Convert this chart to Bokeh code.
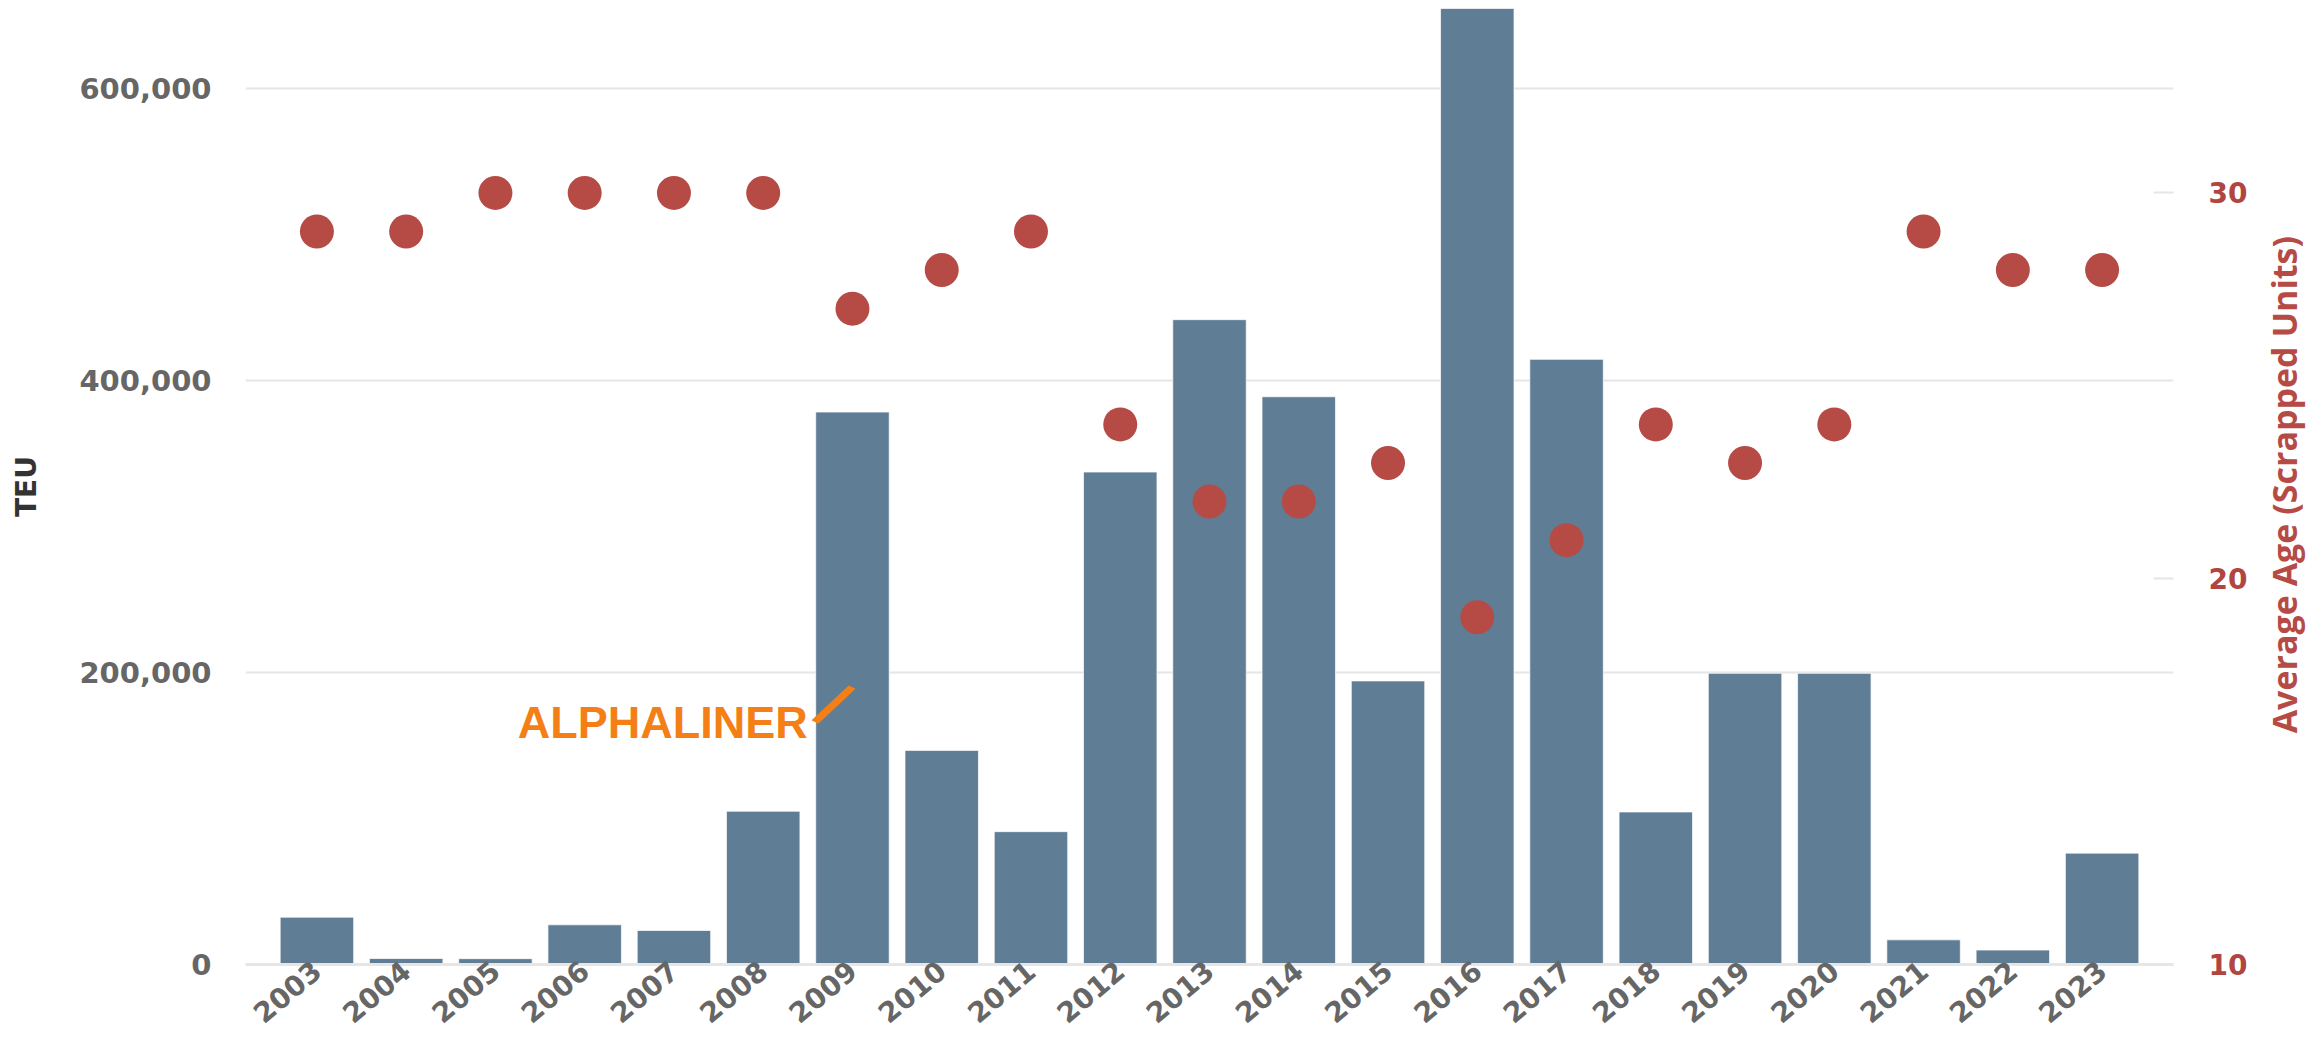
import math
from bokeh.plotting import figure
from bokeh.layouts import row
from bokeh.models import (Range1d, LinearAxis, FixedTicker, NumeralTickFormatter,
                          Label, ColumnDataSource)
from bokeh.embed import file_html
from bokeh.resources import INLINE

# ---- data ----
years = [2003, 2004, 2005, 2006, 2007, 2008, 2009, 2010, 2011, 2012, 2013,
         2014, 2015, 2016, 2017, 2018, 2019, 2020, 2021, 2022, 2023]
teu = [32400, 4100, 4000, 27200, 23300, 105000, 378500, 146700, 91000, 337400,
       441800, 389000, 194300, 655000, 414600, 104500, 199500, 199500, 16900,
       9900, 76300]
avg_age = [29, 29, 30, 30, 30, 30, 27, 28, 29, 24, 22, 22, 23, 19, 21, 24, 23,
           24, 29, 28, 28]
teu_ticks = [0, 200000, 400000, 600000]
age_ticks = [10, 20, 30]

BAR = "#5f7d95"
DOT = "#b64b46"
GRID = "#e6e6e6"
LBL = "#666666"
FONT = "DejaVu Sans"

src = ColumnDataSource(dict(year=years, teu=teu, age=avg_age))

W_TITLE = 50
p = figure(width=2306 - W_TITLE, height=1042, output_backend="svg", toolbar_location=None,
           x_range=Range1d(2002.2, 2023.8), y_range=Range1d(0, 655000),
           min_border_left=245, min_border_right=83, min_border_top=8,
           min_border_bottom=78)
p.extra_y_ranges = {"age": Range1d(10, 34.78)}
p.outline_line_color = None
p.background_fill_color = "white"
p.border_fill_color = "white"

p.vbar(x="year", top="teu", width=0.823, source=src, fill_color=BAR,
       line_color="#ffffff", line_width=1, line_alpha=0.7)

# logo
p.add_layout(Label(x=2005.25, y=166000, text="ALPHALINER", text_font="Liberation Sans",
                   text_font_style="bold", text_font_size="45px", text_color="#f57f17",
                   text_baseline="alphabetic"))
p.add_layout(Label(x=2008.68, y=181000, text="/", text_font="Liberation Sans",
                   text_font_style="bold italic", text_font_size="64px",
                   text_color="#f57f17", text_baseline="alphabetic", angle=-0.45))

p.scatter(x="year", y="age", y_range_name="age", source=src, size=34,
          fill_color=DOT, line_color=None)

# grid
p.xgrid.grid_line_color = None
p.ygrid.ticker = FixedTicker(ticks=teu_ticks)
p.ygrid.grid_line_color = GRID
p.ygrid.grid_line_width = 2

# x axis
xa = p.xaxis[0]
xa.ticker = FixedTicker(ticks=years)
xa.major_label_orientation = 0.7
xa.major_label_text_font = FONT
xa.major_label_text_font_size = "28px"
xa.major_label_text_font_style = "bold"
xa.major_label_text_color = LBL
xa.major_label_standoff = 2
xa.major_tick_line_color = None
xa.major_tick_out = 0
xa.major_tick_in = 0
xa.minor_tick_line_color = None
xa.minor_tick_out = 0
xa.axis_line_color = GRID
xa.axis_line_width = 3

# left axis
ya = p.yaxis[0]
ya.ticker = FixedTicker(ticks=teu_ticks)
ya.formatter = NumeralTickFormatter(format="0,0")
ya.major_label_text_font = FONT
ya.major_label_text_font_size = "29px"
ya.major_label_text_font_style = "bold"
ya.major_label_text_color = LBL
ya.major_label_standoff = 34
ya.major_tick_line_color = None
ya.major_tick_out = 0
ya.minor_tick_line_color = None
ya.minor_tick_out = 0
ya.axis_line_color = None
ya.axis_label = "TEU"
ya.axis_label_text_font = FONT
ya.axis_label_text_font_size = "28px"
ya.axis_label_text_font_style = "bold"
ya.axis_label_text_color = "#333333"
ya.axis_label_standoff = 33

# right axis
ra = LinearAxis(y_range_name="age", ticker=FixedTicker(ticks=age_ticks))
ra.major_label_text_font = FONT
ra.major_label_text_font_size = "28px"
ra.major_label_text_font_style = "bold"
ra.major_label_text_color = "#b04541"
ra.major_label_standoff = 35
ra.major_tick_in = 20
ra.major_tick_out = 0
ra.major_tick_line_color = GRID
ra.major_tick_line_width = 2
ra.minor_tick_line_color = None
ra.minor_tick_out = 0
ra.axis_line_color = None
p.add_layout(ra, "right")

# right axis title (reads bottom-to-top) in a narrow companion figure
t = figure(width=W_TITLE, height=1042, output_backend="svg", toolbar_location=None,
           x_range=Range1d(0, W_TITLE), y_range=Range1d(0, 1042),
           x_axis_type=None, y_axis_type=None, min_border=0)
t.outline_line_color = None
t.xgrid.visible = False
t.ygrid.visible = False
t.add_layout(Label(x=27, y=523, text="Average Age (Scrapped Units)",
                   text_font="Open Sans", text_font_style="bold",
                   text_font_size="34px", text_color=DOT, text_align="center",
                   text_baseline="middle", angle=math.pi / 2))

layout = row(p, t, spacing=0)
open("out.html", "w").write(file_html(layout, INLINE))
